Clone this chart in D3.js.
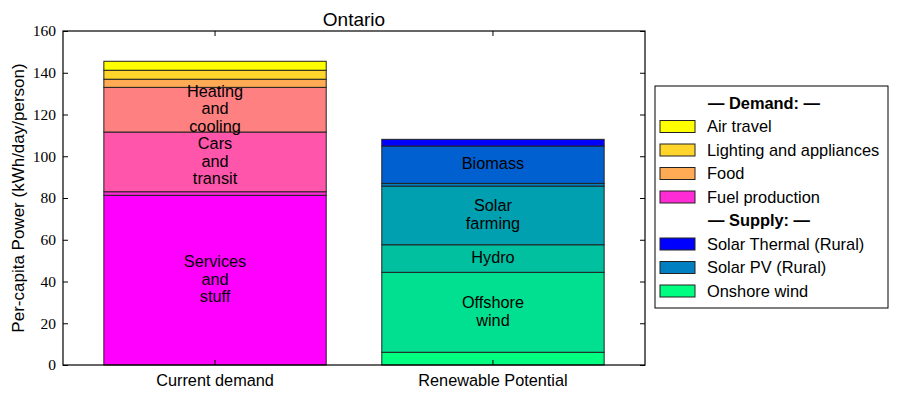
<!DOCTYPE html>
<html>
<head>
<meta charset="utf-8">
<script src="https://cdn.jsdelivr.net/npm/d3@7"></script>
<style>
  body { margin: 0; background: #fff; }
  text { font-family: "Liberation Sans", Arial, sans-serif; }
</style>
</head>
<body>
<div id="chart"></div>
<script>
// Chart data
const categories = ["Current demand", "Renewable Potential"];

// stacked bottom -> top
const demandNames = ["Services and stuff", "Fuel production", "Cars and transit", "Heating and cooling", "Food", "Lighting and appliances", "Air travel"];
const demandValues = [81.3, 1.7, 28.6, 21.4, 3.9, 4.3, 4.3];
const demandColors = ["#ff00ff", "#ff2bd4", "#ff55aa", "#ff8080", "#ffaa55", "#ffd42b", "#ffff00"];
const demandLabels = ["Services\nand\nstuff", "", "Cars\nand\ntransit", "Heating\nand\ncooling", "", "", ""];

const supplyNames = ["Onshore wind", "Offshore wind", "Hydro", "Solar farming", "Solar PV (Rural)", "Biomass", "Solar Thermal (Rural)"];
const supplyValues = [6.1, 38.3, 13.2, 28.1, 1.3, 17.9, 3.2];
const supplyColors = ["#00ff80", "#00e090", "#00c0a0", "#00a0b0", "#0080c0", "#0060d0", "#0000ff"];
const supplyLabels = ["", "Offshore\nwind", "Hydro", "Solar\nfarming", "", "Biomass", ""];

const yTicks = [0, 20, 40, 60, 80, 100, 120, 140, 160];

// legend entries (only the segments without an inline label)
const legendDemand = ["Air travel", "Lighting and appliances", "Food", "Fuel production"];
const legendSupply = ["Solar Thermal (Rural)", "Solar PV (Rural)", "Onshore wind"];

const width = 898, height = 396;
const margin = {top: 31, right: 253, bottom: 31, left: 63};

const svg = d3.select("#chart")
  .append("svg")
  .attr("width", width)
  .attr("height", height);

const x = d3.scaleBand()
  .domain(categories)
  .range([margin.left, width - margin.right])
  .paddingInner(0.2)
  .paddingOuter(0.147);

const y = d3.scaleLinear()
  .domain([0, 160])
  .range([height - margin.bottom, margin.top]);

// build stacked segments
function stackUp(cat, names, values, colors, labels) {
  let base = 0;
  return names.map((n, i) => {
    const seg = {cat: cat, name: n, y0: base, y1: base + values[i], color: colors[i], label: labels[i]};
    base += values[i];
    return seg;
  });
}
const segments = stackUp(categories[0], demandNames, demandValues, demandColors, demandLabels)
  .concat(stackUp(categories[1], supplyNames, supplyValues, supplyColors, supplyLabels));

svg.selectAll("rect.seg")
  .data(segments)
  .enter()
  .append("rect")
  .attr("class", "seg")
  .attr("x", d => x(d.cat))
  .attr("y", d => y(d.y1))
  .attr("width", x.bandwidth())
  .attr("height", d => y(d.y0) - y(d.y1))
  .attr("fill", d => d.color)
  .attr("stroke", "#222")
  .attr("stroke-width", 1);

// inline labels
const lineH = 17.5;
segments.filter(d => d.label).forEach(d => {
  const lines = d.label.split("\n");
  const cy = y((d.y0 + d.y1) / 2);
  const t = svg.append("text")
    .attr("text-anchor", "middle")
    .style("font-size", "16.3px")
    .attr("fill", "#000");
  lines.forEach((ln, i) => {
    t.append("tspan")
      .attr("x", x(d.cat) + x.bandwidth() / 2)
      .attr("y", cy + (i - (lines.length - 1) / 2) * lineH - 1)
      .attr("dy", "0.35em")
      .text(ln);
  });
});

// axes with inward ticks
const yAxis = svg.append("g")
  .attr("transform", `translate(${margin.left},0)`)
  .call(d3.axisLeft(y).tickValues(yTicks).tickSizeInner(-5).tickSizeOuter(0).tickPadding(7));
yAxis.selectAll("text")
  .style("font-family", "'Liberation Serif', 'DejaVu Serif', serif")
  .style("font-size", "15.5px")
  .attr("fill", "#000");

svg.append("g")
  .attr("transform", `translate(${width - margin.right},0)`)
  .call(d3.axisRight(y).tickValues(yTicks).tickSizeInner(-5).tickSizeOuter(0).tickFormat(""));

const xAxis = svg.append("g")
  .attr("transform", `translate(0,${height - margin.bottom})`)
  .call(d3.axisBottom(x).tickSizeInner(-5).tickSizeOuter(0).tickPadding(9));
xAxis.selectAll("text")
  .style("font-size", "16.3px")
  .attr("fill", "#000");

svg.append("g")
  .attr("transform", `translate(0,${margin.top})`)
  .call(d3.axisTop(x).tickSizeInner(-5).tickSizeOuter(0).tickFormat(""));

svg.selectAll(".domain").remove();
svg.selectAll(".tick line").attr("stroke", "#000");

// plot frame
svg.append("rect")
  .attr("x", margin.left)
  .attr("y", margin.top)
  .attr("width", width - margin.right - margin.left)
  .attr("height", height - margin.bottom - margin.top)
  .attr("fill", "none")
  .attr("stroke", "#000")
  .attr("stroke-width", 1.2);

// title
svg.append("text")
  .attr("x", (margin.left + width - margin.right) / 2)
  .attr("y", 26)
  .attr("text-anchor", "middle")
  .style("font-size", "19px")
  .text("Ontario");

// y label
svg.append("text")
  .attr("transform", "rotate(-90)")
  .attr("x", -(margin.top + (height - margin.bottom)) / 2)
  .attr("y", 24)
  .attr("text-anchor", "middle")
  .style("font-size", "17px")
  .text("Per-capita Power (kWh/day/person)");

// legend
const legend = svg.append("g").attr("transform", "translate(655,86)");
legend.append("rect")
  .attr("width", 233)
  .attr("height", 222)
  .attr("fill", "#fff")
  .attr("stroke", "#000")
  .attr("stroke-width", 1);

const colorOf = {};
demandNames.forEach((n, i) => colorOf[n] = demandColors[i]);
supplyNames.forEach((n, i) => colorOf[n] = supplyColors[i]);

const rows = [{head: "— Demand: —"}]
  .concat(legendDemand.map(n => ({name: n})))
  .concat([{head: "— Supply: —"}])
  .concat(legendSupply.map(n => ({name: n})));

const rowStep = 23.5;
rows.forEach((r, i) => {
  const cy = 17 + i * rowStep;
  if (r.head) {
    legend.append("text")
      .attr("x", 53)
      .attr("y", cy)
      .attr("dy", "0.35em")
      .style("font-size", "16.4px")
      .style("font-weight", "bold")
      .text(r.head);
  } else {
    legend.append("rect")
      .attr("x", 5)
      .attr("y", cy - 6)
      .attr("width", 35)
      .attr("height", 12)
      .attr("fill", colorOf[r.name])
      .attr("stroke", "#222")
      .attr("stroke-width", 1);
    legend.append("text")
      .attr("x", 52)
      .attr("y", cy)
      .attr("dy", "0.35em")
      .style("font-size", "16.4px")
      .text(r.name);
  }
});
</script>
</body>
</html>
